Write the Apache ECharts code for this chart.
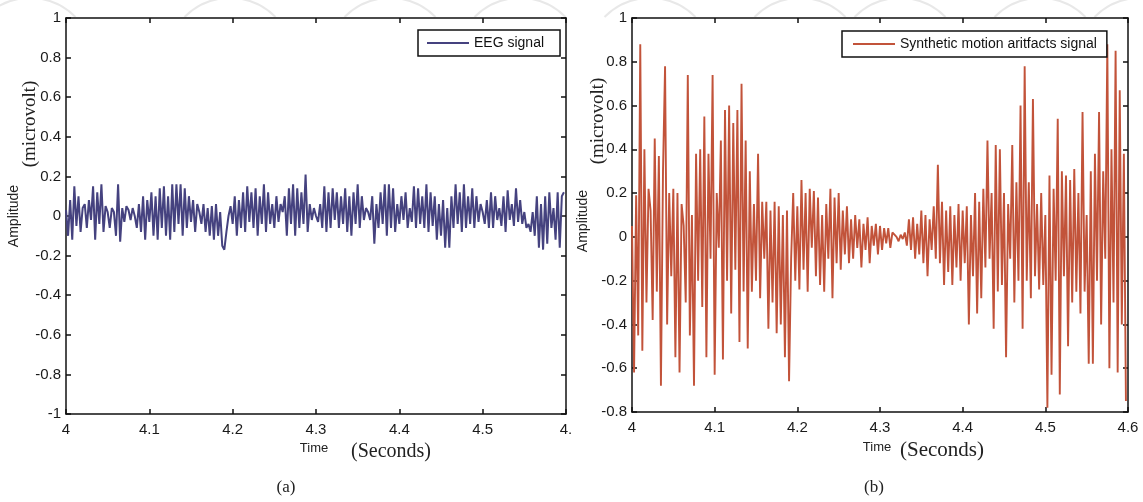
<!DOCTYPE html>
<html>
<head>
<meta charset="utf-8">
<script src="https://cdn.jsdelivr.net/npm/echarts@6/dist/echarts.min.js"></script>
<style>
html,body{margin:0;padding:0;background:#fff;}
#main{width:1143px;height:502px;}
</style>
</head>
<body>
<div id="main"></div>
<script>
// ---- data ----
const startTime = 4.0;
const sampleStep = 0.0025; // seconds between samples
const xTickLabelsA = ['4','4.1','4.2','4.3','4.4','4.5','4.'];
const xTickLabelsB = ['4','4.1','4.2','4.3','4.4','4.5','4.6'];
const eegName = 'EEG signal';
const artName = 'Synthetic motion aritfacts signal';

const eegValues = [
  0.03,-0.10,0.08,-0.12,0.15,-0.05,0.10,-0.08,0.04,0.06,
  -0.06,0.08,-0.02,0.15,-0.12,0.12,-0.04,0.16,-0.08,0.05,
  0.02,-0.06,0.04,0.02,-0.10,0.16,-0.13,0.04,-0.03,0.05,
  0.03,-0.02,0.04,0.00,-0.06,0.06,-0.08,0.10,-0.12,0.08,
  -0.03,0.12,-0.10,0.10,-0.12,0.14,-0.06,0.15,-0.10,0.10,
  -0.12,0.16,-0.08,0.16,-0.04,0.16,-0.10,0.14,-0.06,0.10,
  -0.03,0.08,-0.08,0.06,0.02,-0.04,0.06,-0.08,0.04,-0.10,
  0.05,-0.12,0.06,-0.10,0.02,-0.15,-0.17,-0.08,0.00,0.05,
  -0.04,0.10,-0.10,0.08,-0.06,0.12,-0.08,0.15,-0.03,0.12,
  -0.06,0.14,-0.10,0.10,-0.04,0.16,-0.08,0.12,-0.04,0.06,
  -0.06,0.10,-0.03,0.06,0.02,0.10,-0.10,0.14,-0.04,0.16,
  -0.10,0.14,-0.06,0.12,-0.04,0.21,-0.08,0.06,-0.02,0.04,
  0.00,-0.03,0.06,-0.06,0.15,-0.08,0.12,-0.06,0.14,-0.02,
  0.12,-0.06,0.10,-0.04,0.14,-0.08,0.10,-0.10,0.12,-0.04,
  0.16,-0.06,0.10,-0.02,0.04,0.02,-0.02,0.10,-0.14,0.06,
  -0.06,0.12,-0.04,0.16,-0.10,0.16,-0.06,0.14,-0.08,0.06,
  -0.04,0.10,-0.02,0.12,-0.06,0.04,-0.03,0.15,-0.06,0.14,
  -0.04,0.10,-0.06,0.16,-0.08,0.12,-0.05,0.10,-0.12,0.06,
  -0.10,0.08,-0.16,0.04,-0.16,0.10,-0.06,0.16,-0.04,0.12,
  -0.08,0.16,-0.06,0.10,-0.04,0.14,-0.06,0.10,-0.03,0.06,
  0.02,-0.04,0.08,-0.06,0.12,-0.06,0.10,-0.02,0.04,-0.05,
  0.10,-0.08,0.13,-0.02,0.06,-0.05,0.14,-0.03,0.08,-0.04,
  0.02,-0.06,-0.04,-0.08,0.02,-0.10,0.10,-0.16,0.06,-0.17,
  0.10,-0.14,0.12,-0.06,0.04,-0.12,0.12,-0.16,0.10,0.12
];

const artifactValues = [
  0.05,-0.62,0.19,-0.45,0.88,-0.52,0.40,-0.30,0.22,0.12,
  -0.38,0.45,-0.25,0.37,-0.68,0.30,0.78,-0.40,0.20,-0.18,
  0.22,-0.55,0.20,-0.62,0.15,0.05,-0.30,0.74,-0.45,0.10,
  -0.68,0.38,-0.20,0.40,-0.32,0.55,-0.55,0.38,-0.10,0.74,
  -0.63,0.20,-0.05,0.44,-0.56,0.58,-0.20,0.60,-0.35,0.52,
  -0.15,0.58,-0.48,0.70,-0.25,0.44,-0.51,0.30,-0.25,0.15,
  -0.20,0.38,-0.28,0.16,-0.10,0.16,-0.42,0.12,-0.30,0.16,
  -0.44,0.14,-0.40,0.10,-0.55,0.12,-0.66,-0.10,0.20,-0.20,
  0.14,-0.24,0.26,-0.15,0.20,-0.25,0.22,-0.05,0.21,-0.18,
  0.18,-0.22,0.10,-0.25,0.15,-0.10,0.22,-0.28,0.18,-0.12,
  0.20,-0.15,0.12,-0.08,0.14,-0.12,0.08,-0.10,0.10,-0.05,
  0.08,-0.14,0.06,-0.06,0.09,-0.12,0.05,-0.04,0.06,-0.08,
  0.05,-0.06,0.04,-0.03,0.04,-0.05,0.02,0.01,0.00,-0.02,
  0.01,-0.01,0.02,-0.04,0.08,-0.06,0.09,-0.10,0.06,-0.08,
  0.12,-0.12,0.10,-0.18,0.08,-0.06,0.14,-0.10,0.33,-0.12,
  0.16,-0.22,0.12,-0.16,0.14,-0.22,0.10,-0.14,0.15,-0.20,
  0.12,-0.12,0.14,-0.40,0.10,-0.18,0.20,-0.35,0.16,-0.28,
  0.22,-0.14,0.44,-0.10,0.20,-0.42,0.42,-0.25,0.40,-0.22,
  0.20,-0.55,0.15,-0.10,0.42,-0.30,0.25,-0.20,0.60,-0.42,
  0.78,-0.20,0.25,-0.28,0.63,-0.18,0.15,-0.24,0.20,-0.22,
  0.10,-0.78,0.28,-0.63,0.22,-0.20,0.54,-0.72,0.30,-0.18,
  0.28,-0.50,0.26,-0.30,0.31,-0.25,0.20,-0.35,0.57,-0.25,
  0.10,-0.58,0.30,-0.58,0.38,-0.20,0.57,-0.40,0.30,-0.10,
  0.88,-0.60,0.40,-0.30,0.85,-0.62,0.67,-0.40,0.38,-0.75
];

// ---- build ----
function toPairs(vals){
  return vals.map((v,i)=>[+(startTime + i*sampleStep).toFixed(4), v]);
}
const sans = 'Liberation Sans, Arial, sans-serif';
const serif = 'Liberation Serif, Times New Roman, serif';
const axisLineStyle = {show:true, onZero:false, lineStyle:{color:'#111', width:1.5}};
const tickStyle = {show:true, inside:true, length:5, lineStyle:{color:'#111', width:1.5}};

function xAxes(grid, labels){
  const fmt = v => labels[Math.round((v-4)*10)];
  return [
    {type:'value', gridIndex:grid, min:4, max:4.6, interval:0.1, position:'bottom',
     axisLine:axisLineStyle, axisTick:tickStyle, splitLine:{show:false},
     axisLabel:{formatter:fmt, color:'#1a1a1a', fontFamily:sans, fontSize:15, margin:8}},
    {type:'value', gridIndex:grid, min:4, max:4.6, interval:0.1, position:'top',
     axisLine:axisLineStyle, axisTick:tickStyle, splitLine:{show:false}, axisLabel:{show:false}}
  ];
}
function yAxes(grid, mn, mx){
  const fmt = v => String(Math.round(v*10)/10);
  return [
    {type:'value', gridIndex:grid, min:mn, max:mx, interval:0.2, position:'left',
     axisLine:axisLineStyle, axisTick:tickStyle, splitLine:{show:false},
     axisLabel:{formatter:fmt, color:'#1a1a1a', fontFamily:sans, fontSize:15, margin:5}},
    {type:'value', gridIndex:grid, min:mn, max:mx, interval:0.2, position:'right',
     axisLine:axisLineStyle, axisTick:tickStyle, splitLine:{show:false}, axisLabel:{show:false}}
  ];
}

function vtext(txt, cx, cy, font, size){
  return {type:'text', x:cx, y:cy, rotation:Math.PI/2, z:10,
    style:{text:txt, fontFamily:font, fontSize:size, fill:'#222', align:'center', verticalAlign:'middle'}};
}
function htext(txt, cx, cy, font, size){
  return {type:'text', x:cx, y:cy, z:10,
    style:{text:txt, fontFamily:font, fontSize:size, fill:'#222', align:'center', verticalAlign:'middle'}};
}
// faint background watermark rings of the source page, only the parts above the plots
const ringCentersX = [30, 230, 390, 520, 650, 800, 900, 1040, 1140];
const ringR = 64, ringCy = 62, stripBottom = 17;
const ringA = Math.asin((ringCy - stripBottom) / ringR);
function ring(cx){
  return {type:'arc', z:-100,
    shape:{cx:cx, cy:ringCy, r:ringR, startAngle:Math.PI + ringA, endAngle:2*Math.PI - ringA, clockwise:true},
    style:{fill:'none', stroke:'#e8e8e8', lineWidth:2}};
}

const chart = echarts.init(document.getElementById('main'), null, {renderer:'canvas'});

const legendCommon = {orient:'horizontal', borderColor:'#111', borderWidth:1.5,
  itemWidth:42, itemHeight:2, itemGap:4, icon:'rect', backgroundColor:'#fff',
  textStyle:{fontFamily:sans, fontSize:14, color:'#111', padding:[0,0,0,0]}};

const option = {
  backgroundColor:'#fff',
  animation:false,
  grid:[
    {left:66, top:18, width:500, height:396},
    {left:632, top:18, width:496, height:394}
  ],
  xAxis:[...xAxes(0, xTickLabelsA), ...xAxes(1, xTickLabelsB)],
  yAxis:[...yAxes(0,-1,1), ...yAxes(1,-0.8,1)],
  legend:[
    Object.assign({data:[eegName], left:418, top:30, padding:[6,16,6,9]}, legendCommon),
    Object.assign({data:[artName], left:842, top:31, padding:[6,10,6,11]}, legendCommon)
  ],
  series:[
    {name:eegName, type:'line', xAxisIndex:0, yAxisIndex:0, data:toPairs(eegValues),
     symbol:'none', lineStyle:{color:'#45427f', width:2}, itemStyle:{color:'#45427f'}, z:3},
    {name:artName, type:'line', xAxisIndex:2, yAxisIndex:2, data:toPairs(artifactValues),
     symbol:'none', lineStyle:{color:'#c2533a', width:1.9}, itemStyle:{color:'#c2533a'}, z:3}
  ],
  graphic:[
    ...ringCentersX.map(ring),
    vtext('Amplitude', 14, 216, sans, 14),
    vtext('(microvolt)', 30, 124, serif, 19),
    htext('Time', 314, 448, sans, 13),
    htext('(Seconds)', 391, 452, serif, 20),
    htext('(a)', 286, 488, serif, 17),

    vtext('Amplitude', 583, 221, sans, 14),
    vtext('(microvolt)', 598, 121, serif, 19),
    htext('Time', 877, 447, sans, 13),
    htext('(Seconds)', 942, 450, serif, 21),
    htext('(b)', 874, 488, serif, 17)
  ]
};
chart.setOption(option);
</script>
</body>
</html>
